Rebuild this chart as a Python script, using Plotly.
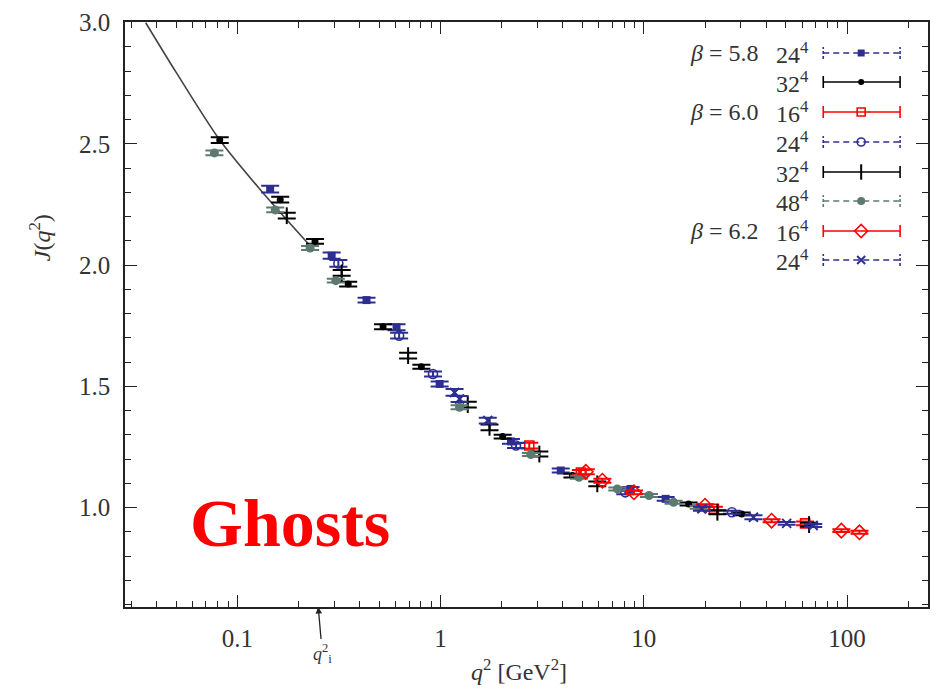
import math
import plotly.graph_objects as go

# ---------------- data ----------------
s58_24_q2 = [0.145, 0.291, 0.432, 0.607, 0.989, 2.22, 3.9, 8.6, 12.8]
s58_24_J = [2.314, 2.039, 1.856, 1.744, 1.510, 1.273, 1.153, 1.077, 1.036]
s58_24_e = [0.014, 0.013, 0.010, 0.012, 0.010, 0.010, 0.008, 0.008, 0.008]

s58_32_q2 = [0.0819, 0.1625, 0.241, 0.351, 0.521, 0.804, 2.02, 4.45, 16.6, 30.3]
s58_32_J = [2.516, 2.270, 2.098, 1.922, 1.746, 1.581, 1.293, 1.132, 1.015, 0.974]
s58_32_e = [0.012, 0.012, 0.010, 0.010, 0.010, 0.008, 0.008, 0.008, 0.006, 0.006]

s60_16_q2 = [2.73, 4.9, 22.1, 62.1]
s60_16_J = [1.256, 1.145, 0.995, 0.935]
s60_16_e = [0.012, 0.010, 0.008, 0.008]

s60_24_q2 = [0.314, 0.625, 0.917, 2.35, 8.1, 27.1]
s60_24_J = [2.007, 1.709, 1.551, 1.256, 1.063, 0.981]
s60_24_e = [0.014, 0.012, 0.010, 0.010, 0.008, 0.006]

s60_32_q2 = [0.175, 0.326, 0.692, 1.36, 1.74, 3.06, 5.9, 23.0, 65.0]
s60_32_J = [2.204, 1.968, 1.627, 1.425, 1.331, 1.221, 1.098, 0.981, 0.930]
s60_32_e = [0.012, 0.012, 0.012, 0.012, 0.012, 0.010, 0.010, 0.008, 0.008]

s60_48_q2 = [0.0771, 0.1535, 0.228, 0.305, 1.24, 2.78, 4.79, 7.4, 10.6, 14.0, 18.6]
s60_48_J = [2.463, 2.228, 2.071, 1.936, 1.414, 1.219, 1.125, 1.077, 1.050, 1.022, 1.001]
s60_48_e = [0.010, 0.010, 0.008, 0.008, 0.008, 0.006, 0.006, 0.006, 0.006, 0.006, 0.006]

s62_16_q2 = [5.18, 6.25, 8.94, 20.0, 42.5, 93.7, 115.0]
s62_16_J = [1.148, 1.111, 1.063, 1.008, 0.946, 0.905, 0.898]
s62_16_e = [0.010, 0.008, 0.008, 0.006, 0.006, 0.006, 0.006]

s62_24_q2 = [1.171, 1.24, 1.706, 19.3, 34.6, 50.4, 68.1]
s62_24_J = [1.475, 1.448, 1.359, 0.995, 0.960, 0.935, 0.926]
s62_24_e = [0.014, 0.012, 0.012, 0.008, 0.008, 0.006, 0.006]

fit_q2 = [0.0354, 0.05, 0.0819, 0.13, 0.228]
fit_J = [3.0, 2.795, 2.516, 2.31, 2.08]

q_i2 = 0.25

x_tickvals = [0.1, 1, 10, 100]
x_ticktext = ["0.1", "1", "10", "100"]

NB = "\u00a0"
legend_beta = [f"<i>β</i>{NB}={NB}5.8", "", f"<i>β</i>{NB}={NB}6.0", "", "", "",
               f"<i>β</i>{NB}={NB}6.2", ""]
legend_vol = ["24<sup>4</sup>", "32<sup>4</sup>", "16<sup>4</sup>", "24<sup>4</sup>",
              "32<sup>4</sup>", "48<sup>4</sup>", "16<sup>4</sup>", "24<sup>4</sup>"]

# ---------------- styles ----------------
BLUE = "#2e2e92"
BLACK = "#000000"
RED = "#ff0000"
GREEN = "#5c7a70"
TXT = "#333333"
FONT = "Liberation Serif"

series = [
    (s58_24_q2, s58_24_J, s58_24_e, BLUE, "square", 8, 0, "dash"),
    (s58_32_q2, s58_32_J, s58_32_e, BLACK, "circle", 7, 0, "solid"),
    (s60_16_q2, s60_16_J, s60_16_e, RED, "square-open", 9, 1.6, "solid"),
    (s60_24_q2, s60_24_J, s60_24_e, BLUE, "circle-open", 9, 1.6, "dash"),
    (s60_32_q2, s60_32_J, s60_32_e, BLACK, "line-ns-open", 12, 2, "solid"),
    (s60_48_q2, s60_48_J, s60_48_e, GREEN, "circle", 9, 0, "dash"),
    (s62_16_q2, s62_16_J, s62_16_e, RED, "diamond-open", 11, 1.6, "solid"),
    (s62_24_q2, s62_24_J, s62_24_e, BLUE, "x-thin-open", 9, 2, "dash"),
]

fig = go.Figure()

# fit curve
fig.add_trace(go.Scatter(x=fit_q2, y=fit_J, mode="lines",
                         line=dict(color="#444444", width=1.6, shape="spline", smoothing=0.8),
                         showlegend=False, hoverinfo="skip"))

for q, J, e, col, sym, size, lw, dash in series:
    fig.add_trace(go.Scatter(
        x=q, y=J, mode="markers",
        marker=dict(symbol=sym, size=size, color=col,
                    line=dict(color=col, width=lw)),
        error_y=dict(type="data", array=e, width=9, thickness=2, color=col),
        showlegend=False))

# ---------------- hand-made legend (on hidden overlay axes) ----------------
L, R, T, B = 125, 930, 22, 607
W, H = R - L, B - T


def px_x(x):
    return (x - L) / W


def px_y(y):
    return (B - y) / H


row_y = [53, 82, 112, 142, 172, 201, 231, 260]
x0, x1, xc = px_x(825), px_x(902), px_x(863)
cap = 6 / H
annotations = []
for i, (q, J, e, col, sym, size, lw, dash) in enumerate(series):
    yr = px_y(row_y[i])
    fig.add_trace(go.Scatter(x=[x0, x1], y=[yr, yr], mode="lines",
                             line=dict(color=col, width=1.6, dash="6px,4px" if dash == "dash" else "solid"),
                             xaxis="x2", yaxis="y2", showlegend=False, hoverinfo="skip"))
    fig.add_trace(go.Scatter(x=[x0, x0, None, x1, x1], y=[yr - cap, yr + cap, None, yr - cap, yr + cap],
                             mode="lines",
                             line=dict(color=col, width=1.6, dash="3px,2px" if dash == "dash" else "solid"),
                             xaxis="x2", yaxis="y2", showlegend=False, hoverinfo="skip"))
    fig.add_trace(go.Scatter(x=[xc], y=[yr], mode="markers",
                             marker=dict(symbol=sym, size=size - 1, color=col,
                                         line=dict(color=col, width=lw)),
                             xaxis="x2", yaxis="y2", showlegend=False, hoverinfo="skip"))
    if legend_beta[i]:
        annotations.append(dict(xref="paper", yref="paper", x=px_x(763), y=yr,
                                text=legend_beta[i], showarrow=False, xanchor="right",
                                yanchor="middle",
                                font=dict(family=FONT, size=24, color=TXT)))
    annotations.append(dict(xref="paper", yref="paper", x=px_x(813), y=yr,
                            text=legend_vol[i], showarrow=False, xanchor="right",
                            yanchor="middle",
                            font=dict(family=FONT, size=24, color=TXT)))

# axis titles and labels
annotations.append(dict(xref="paper", yref="paper", x=px_x(40), y=px_y(238),
                        text="<i>J</i>(<i>q</i><sup>2</sup>)", textangle=-90, showarrow=False,
                        xanchor="center", yanchor="middle",
                        font=dict(family=FONT, size=24, color=TXT)))
annotations.append(dict(xref="paper", yref="paper", x=px_x(520), y=px_y(670),
                        text="<i>q</i><sup>2</sup> [GeV<sup>2</sup>]", showarrow=False,
                        xanchor="center", yanchor="middle",
                        font=dict(family=FONT, size=24, color=TXT)))
annotations.append(dict(xref="x", yref="paper", x=math.log10(q_i2), y=0,
                        text="<i>q</i><sup>2</sup><sub>i</sub>", showarrow=True,
                        arrowhead=2, arrowsize=1, arrowwidth=1.3, arrowcolor="#222222",
                        ax=4, ay=46, standoff=0,
                        font=dict(family=FONT, size=18, color=TXT)))
annotations.append(dict(xref="paper", yref="paper", x=px_x(290), y=px_y(523),
                        text="<b>Ghosts</b>", showarrow=False,
                        xanchor="center", yanchor="middle",
                        font=dict(family=FONT, size=68, color="#ff0000")))

axis_common = dict(showline=True, linecolor="#222222", linewidth=1.6, mirror="allticks",
                   ticks="inside", ticklen=12, tickwidth=1.4, tickcolor="#222222",
                   showgrid=False, zeroline=False,
                   tickfont=dict(family=FONT, size=25, color=TXT))

fig.update_layout(
    width=937, height=691,
    margin=dict(l=L, r=937 - R, t=T, b=691 - B),
    paper_bgcolor="white", plot_bgcolor="white",
    showlegend=False,
    xaxis=dict(type="log", range=[math.log10(0.028), math.log10(250)],
               tickvals=x_tickvals, ticktext=x_ticktext, ticklabelstandoff=8,
               minor=dict(ticks="inside", ticklen=6, tickwidth=1.2, tickcolor="#222222", dtick="D1"),
               **axis_common),
    yaxis=dict(range=[0.59, 3.003], tick0=0, dtick=0.5, tickformat=".1f", ticklabelstandoff=8,
               minor=dict(ticks="inside", ticklen=6, tickwidth=1.2, tickcolor="#222222", dtick=0.1),
               **axis_common),
    xaxis2=dict(overlaying="x", range=[0, 1], visible=False),
    yaxis2=dict(overlaying="y", range=[0, 1], visible=False),
    annotations=annotations,
)

fig.write_html("out.html")
